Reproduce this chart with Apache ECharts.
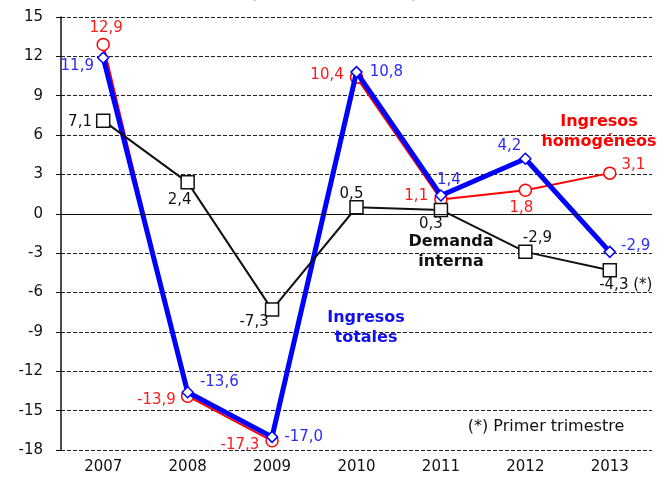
<!DOCTYPE html>
<html>
<head>
<meta charset="utf-8">
<script src="https://cdn.jsdelivr.net/npm/echarts@6/dist/echarts.min.js"></script>
<style>
html,body{margin:0;padding:0;background:#fff;}
#chart{width:668px;height:480px;}
</style>
</head>
<body>
<div id="chart"></div>
<script>
var years = ['2007','2008','2009','2010','2011','2012','2013'];
var ingresosHomogeneos = [12.9, -13.9, -17.3, 10.4, 1.1, 1.8, 3.1];
var ingresosTotales = [11.9, -13.6, -17.0, 10.8, 1.4, 4.2, -2.9];
var demandaInterna = [7.1, 2.4, -7.3, 0.5, 0.3, -2.9, -4.3];
var demandaLabels = ['7,1','2,4','-7,3','0,5','0,3','-2,9','-4,3 (*)'];
var yTicks = {min: -18, max: 15, interval: 3};

var FONT = 'DejaVu Sans';
var FS = 15;
function fmt(v){ return v.toFixed(1).replace('.', ','); }

var redLab = [
  {position:'top', distance:3, offset:[3,1]},
  {position:'left', distance:5, offset:[0,4]},
  {position:'left', distance:6, offset:[0,4]},
  {position:'left', distance:6, offset:[0,-2]},
  {position:'left', distance:6, offset:[0,-3]},
  {position:'bottom', distance:4, offset:[-4,0]},
  {position:'right', distance:5, offset:[0,-8]}
];
var blueLab = [
  {position:'left', distance:3, offset:[0,8]},
  {position:'right', distance:6, offset:[0,-10]},
  {position:'right', distance:6, offset:[0,0]},
  {position:'right', distance:7, offset:[0,0]},
  {position:'top', distance:2, offset:[8,0]},
  {position:'top', distance:2, offset:[-16,3]},
  {position:'right', distance:5, offset:[0,-6]}
];
var blackLab = [
  {position:'left', distance:4, offset:[0,1]},
  {position:'bottom', distance:3, offset:[-8,0]},
  {position:'bottom', distance:2, offset:[-18,-4]},
  {position:'top', distance:1, offset:[-5,3]},
  {position:'bottom', distance:1, offset:[-10,-2]},
  {position:'top', distance:2, offset:[12,3]},
  {position:'bottom', distance:2, offset:[16,-2]}
];

function buildData(values, labs, color, texts){
  return values.map(function(v, i){
    return {
      value: v,
      label: {
        show: true,
        position: labs[i].position,
        distance: labs[i].distance,
        offset: labs[i].offset,
        color: color,
        fontFamily: FONT,
        fontSize: FS,
        formatter: texts ? texts[i] : fmt(v)
      }
    };
  });
}

var chart = echarts.init(document.getElementById('chart'), null, {renderer:'canvas'});
chart.setOption({
  animation: false,
  backgroundColor: '#ffffff',
  grid: {left: 61, right: 16, top: 17, bottom: 30, containLabel: false},
  xAxis: {
    type: 'category',
    data: years,
    boundaryGap: true,
    axisLine: {show: false, onZero: false},
    axisTick: {show: false},
    axisLabel: {color: '#111', fontFamily: FONT, fontSize: FS, margin: 10},
    splitLine: {show: false}
  },
  yAxis: {
    type: 'value',
    min: yTicks.min, max: yTicks.max, interval: yTicks.interval,
    axisLine: {show: true, lineStyle: {color: '#111', width: 1.5}},
    axisTick: {show: true, length: 5, lineStyle: {color: '#111'}},
    axisLabel: {color: '#111', fontFamily: FONT, fontSize: FS, margin: 18},
    splitLine: {show: true, lineStyle: {color: '#222', type: [4, 2], width: 1}}
  },
  series: [
    {
      name: 'Ingresos homogéneos',
      type: 'line',
      data: buildData(ingresosHomogeneos, redLab, '#ff1a1a'),
      symbol: 'circle', symbolSize: 12,
      lineStyle: {color: '#ff0000', width: 2},
      itemStyle: {color: '#ffffff', borderColor: '#ff0000', borderWidth: 1.5},
      z: 2,
      markLine: {
        silent: true, symbol: 'none', label: {show: false},
        lineStyle: {color: '#111', type: 'solid', width: 1.2},
        data: [{yAxis: 0}]
      }
    },
    {
      name: 'Ingresos totales',
      type: 'line',
      data: buildData(ingresosTotales, blueLab, '#2b2bff'),
      symbol: 'diamond', symbolSize: 11,
      lineStyle: {color: '#0000ff', width: 5},
      itemStyle: {color: '#ffffff', borderColor: '#0000ff', borderWidth: 1.5},
      z: 3
    },
    {
      name: 'Demanda interna',
      type: 'line',
      data: buildData(demandaInterna, blackLab, '#111', demandaLabels),
      symbol: 'rect', symbolSize: 13,
      lineStyle: {color: '#111', width: 2},
      itemStyle: {color: '#ffffff', borderColor: '#111', borderWidth: 1.5},
      z: 4
    }
  ],
  graphic: [
    {type:'text', left: 'center', top: -13, style:{text:'(tasas de variación)', font:'bold 15px "DejaVu Sans"', fill:'#111'}},
    {type:'text', x: 599, y: 132, style:{text:'Ingresos\nhomogéneos', font:'bold 16px "DejaVu Sans"', fill:'#ff0000', align:'center', verticalAlign:'middle', lineHeight:20}, z: 10},
    {type:'text', x: 451, y: 252, style:{text:'Demanda\ninterna', font:'bold 16px "DejaVu Sans"', fill:'#111', align:'center', verticalAlign:'middle', lineHeight:20}, z: 10},
    {type:'text', x: 366, y: 328, style:{text:'Ingresos\ntotales', font:'bold 16px "DejaVu Sans"', fill:'#1010ee', align:'center', verticalAlign:'middle', lineHeight:20}, z: 10},
    {type:'text', x: 546, y: 427, style:{text:'(*) Primer trimestre', font:'16px "DejaVu Sans"', fill:'#111', align:'center', verticalAlign:'middle'}, z: 10}
  ]
});
</script>
</body>
</html>
